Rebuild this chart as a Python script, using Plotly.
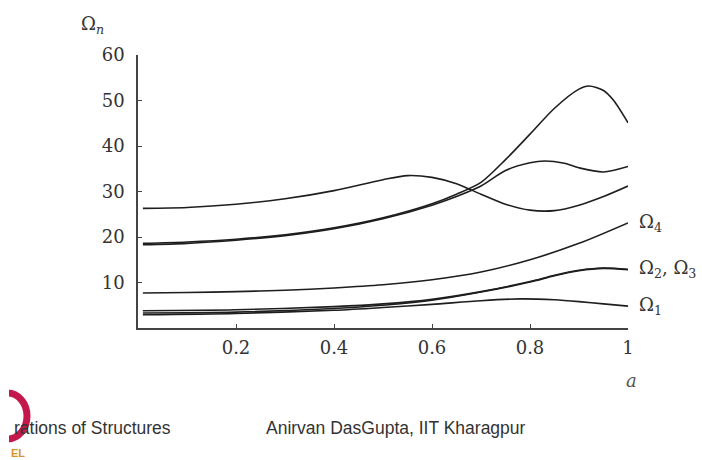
import plotly.graph_objects as go

# ---- data ----
x_a = [0.01, 0.1, 0.2, 0.3, 0.4, 0.5, 0.55, 0.6, 0.65, 0.7, 0.75, 0.8, 0.85, 0.9, 0.95, 1.0]
y_a = [26.3, 26.5, 27.2, 28.4, 30.2, 32.6, 33.5, 33.1, 31.7, 29.4, 27.2, 25.9, 25.8, 27.0, 28.9, 31.2]

x_b = [0.01, 0.1, 0.2, 0.3, 0.4, 0.5, 0.6, 0.65, 0.7, 0.75, 0.8, 0.85, 0.9, 0.92, 0.95, 0.97, 1.0]
y_b = [18.6, 18.9, 19.5, 20.5, 22.0, 24.2, 27.3, 29.4, 32.0, 37.0, 42.6, 48.3, 52.5, 53.2, 52.2, 50.1, 45.1]

x_c = [0.01, 0.1, 0.2, 0.3, 0.4, 0.5, 0.6, 0.65, 0.7, 0.75, 0.8, 0.83, 0.87, 0.9, 0.95, 1.0]
y_c = [18.3, 18.6, 19.3, 20.3, 21.8, 24.0, 27.0, 28.9, 31.2, 34.6, 36.3, 36.7, 36.2, 35.2, 34.3, 35.5]

x_d = [0.01, 0.1, 0.2, 0.3, 0.4, 0.5, 0.6, 0.7, 0.8, 0.9, 1.0]
y_d = [7.7, 7.8, 8.0, 8.3, 8.8, 9.5, 10.6, 12.3, 15.0, 18.6, 23.1]

x_23 = [0.01, 0.2, 0.4, 0.5, 0.6, 0.7, 0.8, 0.85, 0.9, 0.95, 1.0]
y_2 = [3.3, 3.5, 4.3, 5.0, 6.1, 7.9, 10.1, 11.5, 12.6, 13.1, 12.8]
y_3 = [3.8, 4.0, 4.7, 5.3, 6.3, 8.0, 10.2, 11.6, 12.7, 13.2, 12.9]

x_1 = [0.01, 0.2, 0.4, 0.5, 0.6, 0.7, 0.78, 0.85, 0.9, 0.95, 1.0]
y_1 = [2.9, 3.2, 3.9, 4.5, 5.2, 6.0, 6.4, 6.2, 5.8, 5.3, 4.8]

x_ticks = [0.2, 0.4, 0.6, 0.8, 1.0]
x_tick_text = ["0.2", "0.4", "0.6", "0.8", "1"]
y_ticks = [10, 20, 30, 40, 50, 60]
y_tick_text = ["10", "20", "30", "40", "50", "60"]

curve_labels = ["Ω<sub>4</sub>", "Ω<sub>2</sub>, Ω<sub>3</sub>", "Ω<sub>1</sub>"]
label_y = [23.1, 13.0, 4.8]

LINE = "#1e1e1e"
SERIF = "DejaVu Serif"
SANS = "Liberation Sans"

# plot-area geometry in window pixels (for placing paper-referenced extras)
PX0, PX1 = 138, 628
PY0, PY1 = 328, 55


def px(xp):
    return (xp - PX0) / (PX1 - PX0)


def py(yp):
    return (PY0 - yp) / (PY0 - PY1)


fig = go.Figure()
for xs, ys in [(x_a, y_a), (x_b, y_b), (x_c, y_c), (x_d, y_d),
               (x_23, y_2), (x_23, y_3), (x_1, y_1)]:
    fig.add_trace(go.Scatter(x=xs, y=ys, mode="lines",
                             line=dict(color=LINE, width=1.6, shape="spline", smoothing=0.8),
                             showlegend=False, hoverinfo="skip"))

annotations = []
for t, yv in zip(curve_labels, label_y):
    annotations.append(dict(x=px(637), y=yv / 60, xref="paper", yref="paper", text=t,
                            showarrow=False, xanchor="left", yanchor="middle",
                            font=dict(family=SERIF, size=18, color="#333")))

# axis titles
annotations.append(dict(x=px(92), y=py(25), xref="paper", yref="paper",
                        text="Ω<sub><i>n</i></sub>", showarrow=False, xanchor="center", yanchor="middle",
                        font=dict(family=SERIF, size=18, color="#333")))
annotations.append(dict(x=px(631), y=py(380), xref="paper", yref="paper",
                        text="<i>a</i>", showarrow=False, xanchor="center", yanchor="middle",
                        font=dict(family=SERIF, size=18, color="#555")))

# footer texts
annotations.append(dict(x=px(12), y=py(428), xref="paper", yref="paper",
                        text="rations of Structures", showarrow=False, xanchor="left", yanchor="middle",
                        font=dict(family=SANS, size=17.5, color="#333")))
annotations.append(dict(x=px(264), y=py(428), xref="paper", yref="paper",
                        text="Anirvan DasGupta, IIT Kharagpur", showarrow=False, xanchor="left",
                        yanchor="middle", font=dict(family=SANS, size=17.5, color="#333")))
annotations.append(dict(x=px(9), y=py(453), xref="paper", yref="paper",
                        text="<b>EL</b>", showarrow=False, xanchor="left", yanchor="middle",
                        font=dict(family=SANS, size=11, color="#d8922e")))

shapes = [
    dict(type="circle", xref="paper", yref="paper",
         x0=px(-12), x1=px(27), y0=py(439), y1=py(393),
         line=dict(color="#c4174c", width=7), layer="above"),
    dict(type="rect", xref="paper", yref="paper",
         x0=px(-2), x1=px(9), y0=py(446), y1=py(385),
         line=dict(width=0), fillcolor="white", layer="above"),
]

fig.update_layout(
    width=702, height=460,
    margin=dict(l=PX0, r=702 - PX1, t=PY1, b=460 - PY0),
    paper_bgcolor="white", plot_bgcolor="white",
    annotations=annotations, shapes=shapes,
    xaxis=dict(range=[0, 1], tickvals=x_ticks, ticktext=x_tick_text,
               showgrid=False, zeroline=False, showline=True, linecolor="#444", linewidth=1.5,
               ticks="inside", ticklen=4, tickcolor="#444", tickwidth=1,
               ticklabelstandoff=3,
               tickfont=dict(family=SERIF, size=18, color="#333")),
    yaxis=dict(range=[0, 60], tickvals=y_ticks, ticktext=y_tick_text,
               showgrid=False, zeroline=False, showline=True, linecolor="#444", linewidth=1.5,
               ticks="inside", ticklen=4, tickcolor="#444", tickwidth=1,
               ticklabelstandoff=8,
               tickfont=dict(family=SERIF, size=18, color="#333")),
)

fig.write_html("out.html", config={"displayModeBar": False},
               post_script="document.body.style.margin='0px';")
